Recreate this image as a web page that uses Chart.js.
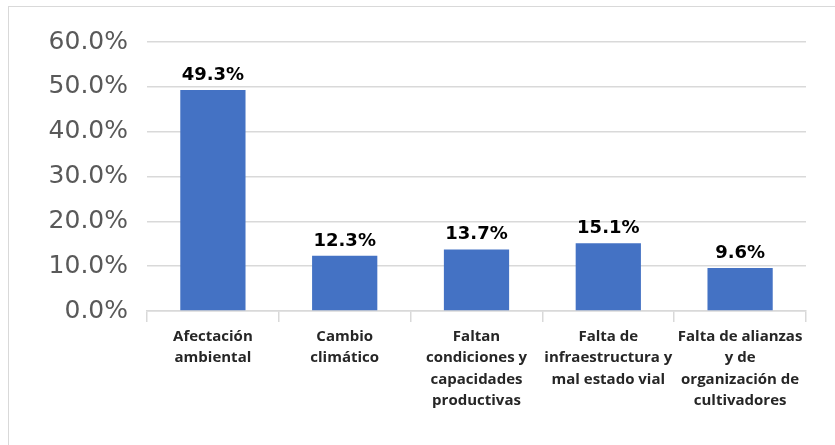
<!DOCTYPE html>
<html>
<head>
<meta charset="utf-8">
<script src="https://cdn.jsdelivr.net/npm/chart.js@4.4.1/dist/chart.umd.min.js"></script>
<style>
  html, body { margin: 0; padding: 0; background: #fff; overflow: hidden; }
  #wrap {
    position: absolute; left: 8px; top: 6px;
    width: 826px; height: 439px;
    border-left: 1px solid #d9d9d9; border-top: 1px solid #d9d9d9;
  }
  canvas { display: block; }
</style>
</head>
<body>
<div id="wrap"><canvas id="chart" width="826" height="439"></canvas></div>
<script>
// Categories and values
const categories = [
  ['Afectación', 'ambiental'],
  ['Cambio', 'climático'],
  ['Faltan', 'condiciones y', 'capacidades', 'productivas'],
  ['Falta de', 'infraestructura y', 'mal estado vial'],
  ['Falta de alianzas', 'y de', 'organización de', 'cultivadores']
];
const shares = [0.493, 0.123, 0.137, 0.151, 0.096];
const yTicks = [0, 0.1, 0.2, 0.3, 0.4, 0.5, 0.6];

const pct = (v) => (v * 100).toFixed(1) + '%';

// simple value labels above bars
const barLabels = {
  id: 'barLabels',
  afterDatasetsDraw(chart) {
    const { ctx } = chart;
    const meta = chart.getDatasetMeta(0);
    ctx.save();
    ctx.font = 'bold 18px "DejaVu Sans"';
    ctx.fillStyle = '#000';
    ctx.textAlign = 'center';
    ctx.textBaseline = 'bottom';
    meta.data.forEach((bar, i) => {
      ctx.fillText(pct(shares[i]), bar.x, bar.y - 6);
    });
    ctx.restore();
  }
};

new Chart(document.getElementById('chart'), {
  type: 'bar',
  data: {
    labels: categories,
    datasets: [{
      data: shares,
      backgroundColor: '#4472C4',
      borderWidth: 0,
      categoryPercentage: 1,
      barPercentage: 0.495
    }]
  },
  options: {
    responsive: false,
    animation: false,
    layout: { padding: { top: 35, right: 29, left: 0, bottom: 0 } },
    plugins: { legend: { display: false }, tooltip: { enabled: false } },
    scales: {
      y: {
        min: 0, max: 0.6,
        afterFit: (s) => { s.width = 138; },
        afterBuildTicks: (s) => { s.ticks = yTicks.map(v => ({ value: v })); },
        grid: { color: '#d9d9d9', lineWidth: 1.5, drawTicks: false },
        border: { display: false },
        ticks: {
          padding: 19,
          color: '#595959',
          font: { family: 'DejaVu Sans', size: 25 },
          callback: (v) => pct(v)
        }
      },
      x: {
        afterFit: (s) => { s.height = 135; },
        grid: { drawOnChartArea: false, drawTicks: true, tickLength: 11, color: '#d9d9d9', lineWidth: 1.5, offset: true },
        border: { display: true, color: '#d9d9d9', width: 1.5 },
        ticks: {
          padding: 4,
          color: '#262626',
          maxRotation: 0,
          autoSkip: false,
          font: { family: 'Open Sans', size: 15, weight: 'bold', lineHeight: 1.43 }
        }
      }
    }
  },
  plugins: [barLabels]
});
</script>
</body>
</html>
